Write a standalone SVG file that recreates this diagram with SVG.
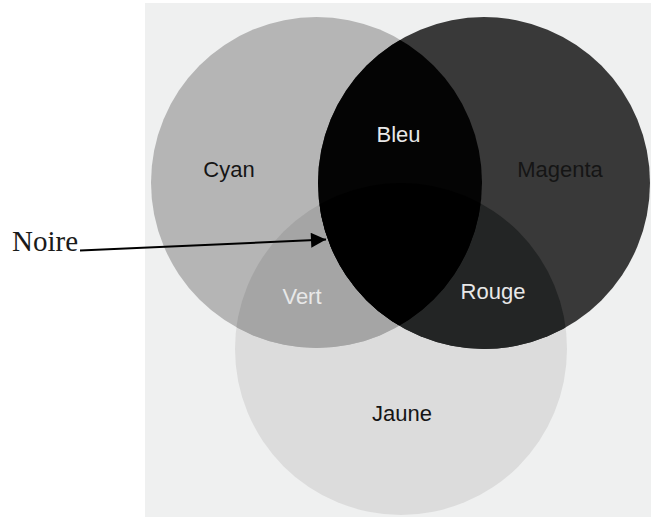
<svg xmlns="http://www.w3.org/2000/svg" width="653" height="519" viewBox="0 0 653 519">
<style>
.lbl{font-family:"Liberation Sans",Arial,sans-serif;font-size:22px;text-anchor:middle}
.dark{fill:#151515}
.light{fill:#e8e8e8}
.noire{font-family:"Liberation Serif","Times New Roman",serif;font-size:29px;fill:#1a1a1a}
.conn{stroke:#000;stroke-width:2;fill:none}
</style>
<defs>
<clipPath id="cCyan"><circle cx="316.5" cy="182.5" r="165.5"/></clipPath>
<clipPath id="cMag"><circle cx="484" cy="183" r="166"/></clipPath>
<clipPath id="cJau"><circle cx="401" cy="349" r="166"/></clipPath>
<marker id="arr" viewBox="0 0 10 10" refX="10" refY="5" markerWidth="8.5" markerHeight="7.5" markerUnits="strokeWidth" orient="auto">
<path d="M0,0 L10,5 L0,10 z" fill="#000"/>
</marker>
</defs>
<rect x="145" y="3" width="506" height="514" fill="#eff0f0"/>
<g id="jaune">
<circle cx="401" cy="349" r="166" fill="#dcdcdc"/>
<text class="lbl dark" x="402" y="421">Jaune</text>
</g>
<g id="cyan">
<circle cx="316.5" cy="182.5" r="165.5" fill="#b5b5b5"/>
<text class="lbl dark" x="229" y="177">Cyan</text>
</g>
<g id="magenta">
<circle cx="484" cy="183" r="166" fill="#393939"/>
<text class="lbl dark" x="560" y="177">Magenta</text>
</g>
<g id="vert">
<g clip-path="url(#cCyan)"><circle cx="401" cy="349" r="166" fill="#a5a5a5"/></g>
<text class="lbl light" x="302" y="304">Vert</text>
</g>
<g id="rouge">
<g clip-path="url(#cMag)"><circle cx="401" cy="349" r="166" fill="#232525"/></g>
<text class="lbl light" x="493" y="299">Rouge</text>
</g>
<g id="bleu">
<g clip-path="url(#cCyan)"><circle cx="484" cy="183" r="166" fill="#040404"/></g>
<g clip-path="url(#cCyan)"><g clip-path="url(#cMag)"><circle cx="401" cy="349" r="166" fill="#000"/></g></g>
<text class="lbl light" x="398.5" y="142">Bleu</text>
</g>
<g id="noire">
<text class="noire" x="12" y="251">Noire</text>
</g>
<g id="connectors">
<line class="conn" x1="80" y1="250.5" x2="326" y2="239.5" marker-end="url(#arr)"/>
</g>
</svg>
